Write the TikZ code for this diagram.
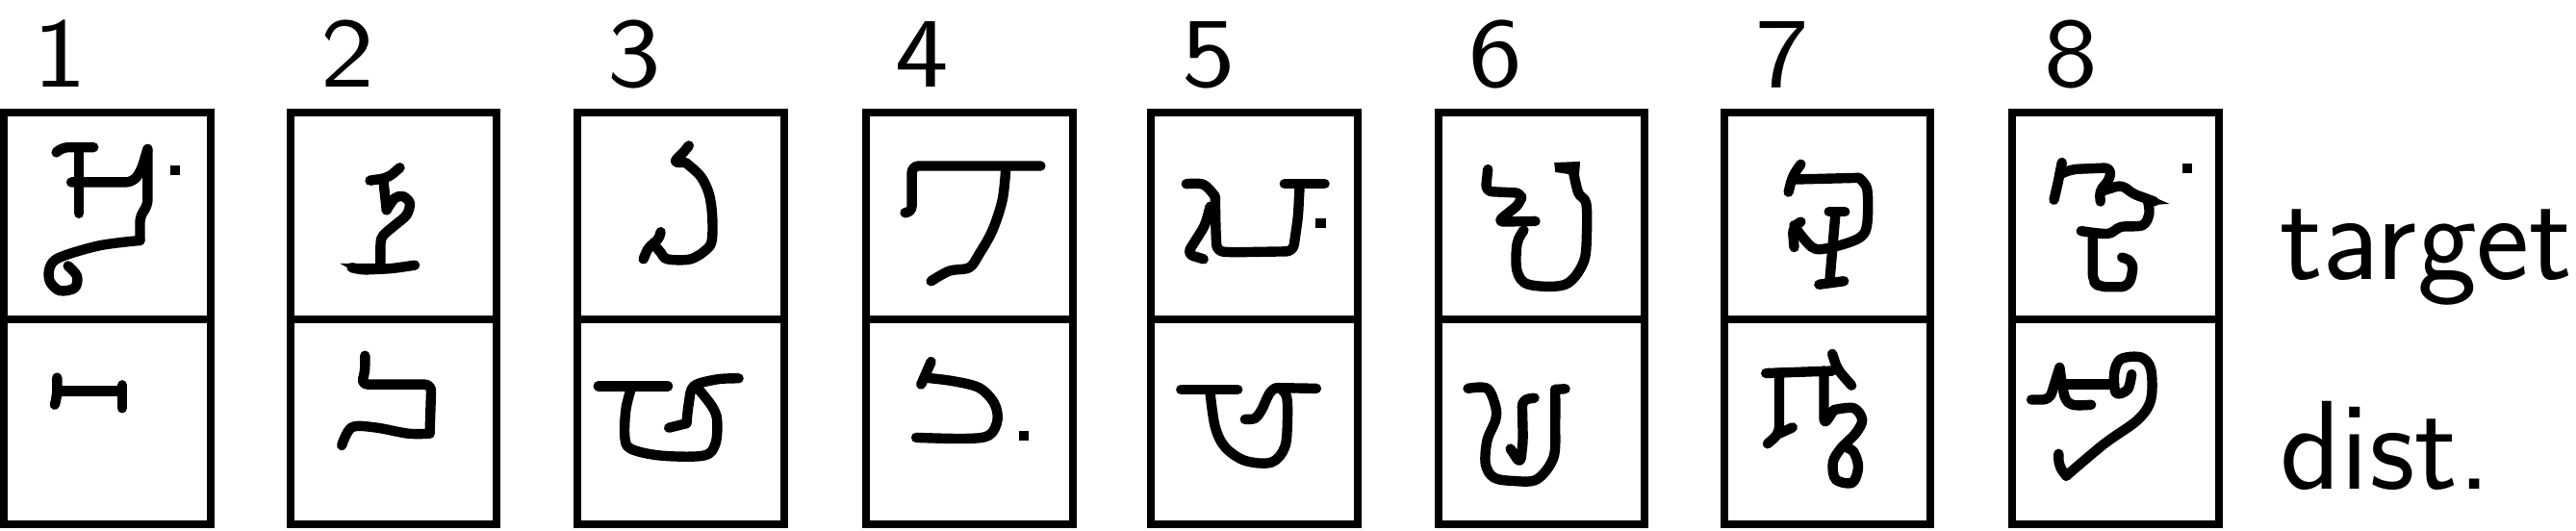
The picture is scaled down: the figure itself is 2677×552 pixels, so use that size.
\documentclass[tikz,border=0pt]{standalone}
\usepackage{fontspec}
\usepackage{graphicx}
\tikzset{
  crop/.style={shift={(#1,552)},x=0.34483bp,y=-0.35211bp},
  glyph/.style={line width=10.4bp,line join=round,line cap=round,rounded corners=7bp},
  frame/.style={line width=8bp,line join=miter},
  digit/.style={anchor=base,inner sep=0pt,font=\sffamily\fontsize{104}{120}\selectfont},
  sidelabel/.style={anchor=base west,inner sep=0pt,font=\sffamily\fontsize{132}{150}\selectfont}
}
\newcommand{\cellpair}[1]{%
  \draw[frame] (#1,435) rectangle ++(214.6,-428);
  \draw[frame] (#1,219.7) -- ++(214.6,0);
}
\newcommand{\widedigit}[1]{\scalebox{1.14}[1]{#1}}
\newcommand{\curve}[1]{\draw[glyph,sharp corners] plot[smooth,tension=0.55] coordinates {#1};}
\begin{document}
\begin{tikzpicture}[x=1bp,y=1bp]
\useasboundingbox (0,0) rectangle (2677,552);
\cellpair{4.1}\cellpair{301.8}\cellpair{600.3}\cellpair{900}
\cellpair{1196.4}\cellpair{1494.5}\cellpair{1791.7}\cellpair{2091.4}
\node[digit] (n1) at (62,461.5) {\widedigit{1}};
\node[digit] (n2) at (361,461.5) {\widedigit{2}};
\node[digit] (n3) at (659,461.5) {\widedigit{3}};
\node[digit] (n4) at (958,461.5) {\widedigit{4}};
\node[digit] (n5) at (1256.5,461.5) {\widedigit{5}};
\node[digit] (n6) at (1554,461.5) {\widedigit{6}};
\node[digit] (n7) at (1852,461.5) {\widedigit{7}};
\node[digit] (n8) at (2152,461.5) {\widedigit{8}};
\node[sidelabel] (ltarget) at (2369,261.5) {target};
\node[sidelabel] (ldist) at (2369,43) {dist.};
% columns 1, 2
\begin{scope}[crop=0]
\draw[glyph] (170,450)--(185,435)--(282,435);
\draw[glyph] (238,435)--(238,630);
\draw[glyph] (215,538)--(400,538)--(425,505)--(445,440);
\draw[glyph] (445,440)--(445,610)--(422,635)--(422,710);
\curve{(422,710)(300,725)(180,760)(150,790)(150,830)(180,858)(225,850)(232,815)(205,785)}
\fill (514,489) rectangle (543,517);
\draw[glyph] (172,1115)--(172,1170)--(165,1195);
\draw[glyph] (172,1155)--(368,1155);
\draw[glyph] (368,1137)--(368,1205);
\draw[glyph] (1115,533)--(1170,525)--(1205,495);
\draw[glyph] (1155,530)--(1165,620);
\curve{(1165,620)(1190,585)(1215,580)(1235,600)(1225,635)(1190,665)(1155,695)(1147,720)(1147,790)}
\draw[glyph] (1060,790)--(1090,797)--(1180,793)--(1250,783);
\fill (1025,778) -- (1140,778) -- (1110,810) -- (1085,810) -- cycle;
\draw[glyph] (1100,1050)--(1100,1100)--(1088,1135)--(1300,1135)--(1295,1280);
\curve{(1295,1280)(1230,1280)(1130,1262)(1060,1262)(1030,1315)}
\end{scope}
% columns 3, 4
\begin{scope}[crop=590]
\draw[glyph] (365,430)--(345,455)--(315,480)--(355,480);
\curve{(355,480)(400,520)(425,570)(435,630)(435,705)(420,735)(370,765)(300,765)(280,745)(262,725)}
\draw[glyph] (280,685)--(275,710)--(245,725)--(228,765);
\draw[glyph] (92,1140)--(302,1140);
\curve{(190,1150)(175,1210)(172,1290)(190,1325)(280,1345)(410,1345)(445,1310)(450,1240)(435,1200)(395,1150)}
\curve{(515,1117)(450,1120)(380,1140)(365,1190)(358,1250)}
\draw[glyph] (358,1250)--(305,1263);
\draw[glyph] (1022,628)--(1037,628)--(1037,490)--(1425,490);
\curve{(1320,500)(1310,590)(1280,680)(1240,750)(1210,790)(1150,800)(1095,830)}
\draw[glyph] (1095,1068)--(1065,1135);
\curve{(1075,1115)(1160,1125)(1240,1145)(1285,1190)(1295,1240)(1270,1285)(1200,1295)(1050,1292)}
\fill (1360,1271) rectangle (1389,1300);
\end{scope}
% columns 5, 6
\begin{scope}[crop=1180]
\curve{(153,543)(205,545)(240,580)}
\draw[glyph] (240,580)--(242,680)--(245,742)--(290,745)--(475,742)--(490,640)--(495,545);
\draw[glyph] (449,543)--(570,543);
\draw[glyph] (225,610)--(210,665)--(155,750)--(205,765);
\fill (543,645) rectangle (575,673);
\draw[glyph] (137,1150)--(308,1150);
\curve{(225,1160)(240,1260)(270,1320)(330,1360)(410,1365)(450,1320)(458,1240)(455,1170)(430,1145)(405,1160)(380,1210)(360,1235)(330,1238)}
\draw[glyph] (430,1145)--(545,1147);
\draw[glyph] (1062,500)--(1055,565)--(1165,570)--(1160,600)--(1090,655)--(1205,653);
\curve{(1170,680)(1150,720)(1150,800)(1185,840)(1295,840)(1350,775)(1360,690)(1358,600)(1335,570)(1320,510)}
\fill (1262,480) -- (1340,477) -- (1335,540) -- (1310,515) -- (1265,508) -- cycle;
\curve{(1002,1147)(1060,1147)(1085,1200)(1085,1240)(1060,1300)(1055,1370)(1080,1410)(1140,1420)(1210,1415)(1260,1350)(1265,1250)(1265,1150)}
\draw[glyph] (1265,1150)--(1295,1148);
\draw[glyph] (1202,1175)--(1165,1180)--(1168,1300)--(1160,1370)--(1130,1325);
\end{scope}
% columns 7, 8
\begin{scope}[crop=1780]
\draw[glyph] (265,485)--(240,520)--(228,567);
\draw[glyph] (240,530)--(440,525);
\curve{(440,525)(465,560)(465,660)(445,700)(380,725)(310,735)(270,700)(245,665)}
\draw[glyph] (265,655)--(240,670)--(245,730);
\draw[glyph] (350,625)--(398,625);
\draw[glyph] (370,625)--(352,830);
\draw[glyph] (320,840)--(395,830);
\draw[glyph] (160,1102)--(360,1095);
\draw[glyph] (200,1100)--(200,1280)--(165,1310);
\draw[glyph] (200,1280)--(240,1262);
\draw[glyph] (360,1045)--(375,1090)--(418,1138);
\draw[glyph] (335,1095)--(335,1255)--(365,1210);
\curve{(365,1210)(425,1205)(450,1240)(430,1280)(385,1325)(362,1365)(370,1415)(420,1425)(438,1380)(425,1335)(400,1320)}
\draw[glyph] (1052,480)--(1040,540)--(1028,590);
\draw[glyph] (1045,515)--(1080,500)--(1200,495)--(1195,535)--(1165,560)--(1168,595);
\draw[glyph] (1170,565)--(1235,545)--(1260,570)--(1330,595);
\fill (1290,565) -- (1376,602) -- (1325,605) -- cycle;
\curve{(1310,590)(1315,630)(1295,665)(1230,670)(1190,690)(1110,682)}
\draw[glyph] (1145,690)--(1145,830)--(1165,847)--(1250,847)--(1265,810)--(1265,770)--(1233,760);
\fill (1414,483) rectangle (1443,511);
\draw[glyph] (960,1180)--(1015,1180)--(1045,1085);
\curve{(1045,1085)(1060,1170)(1085,1195)(1140,1195)}
\draw[glyph] (1060,1135)--(1210,1135);
\curve{(1262,1105)(1250,1150)(1215,1160)(1210,1100)(1230,1060)(1290,1055)(1320,1090)(1320,1180)(1280,1240)(1180,1310)(1065,1405)}
\draw[glyph] (1065,1405)--(1042,1375)--(1042,1340);
\end{scope}
\end{tikzpicture}
\end{document}
